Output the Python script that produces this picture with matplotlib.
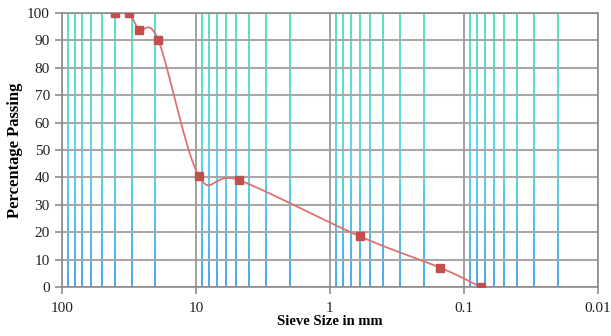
import numpy as np
import matplotlib
matplotlib.use("Agg")
import matplotlib.pyplot as plt
from matplotlib.collections import LineCollection
from matplotlib.colors import LinearSegmentedColormap

# sieve analysis data
sieve_mm = [40, 31.5, 26.5, 19, 9.5, 4.75, 0.6, 0.15, 0.075]
passing = [100, 100, 94, 90, 40.5, 39, 18.5, 7, 0]

y_ticks = list(range(0, 101, 10))
x_ticks = [100, 10, 1, 0.1, 0.01]
x_ticklabels = ["100", "10", "1", "0.1", "0.01"]

plt.rcParams['font.family'] = ['Liberation Serif', 'DejaVu Serif']


def catmull_rom(px, py, n=30):
    # excel-style smoothed line through the points
    px = np.asarray(px, float)
    py = np.asarray(py, float)
    P = np.column_stack([px, py])
    P = np.vstack([P[0], P, P[-1]])
    out = []
    for i in range(1, len(P) - 2):
        p0, p1, p2, p3 = P[i - 1], P[i], P[i + 1], P[i + 2]
        c1 = p1 + (p2 - p0) / 6.0
        c2 = p2 - (p3 - p1) / 6.0
        t = np.linspace(0, 1, n)[:, None]
        seg = ((1 - t) ** 3) * p1 + 3 * ((1 - t) ** 2) * t * c1 + 3 * (1 - t) * t ** 2 * c2 + t ** 3 * p2
        out.append(seg)
    out = np.vstack(out)
    return out[:, 0], out[:, 1]


fig = plt.figure(figsize=(6.11, 3.36), dpi=100)
ax = fig.add_axes([0.101, 0.146, 0.878, 0.815])
ax.set_xscale('log')
ax.set_xlim(100, 0.01)
ax.set_ylim(0, 100)

# gradient minor gridlines (green at top -> blue at bottom)
cmap = LinearSegmentedColormap.from_list('grid', ['#1a8fe6', '#2ccfe6', '#2ad8a6'])
ys = np.linspace(0, 100, 60)
minors = []
for dec in [10, 1, 0.1, 0.01]:
    for k in range(2, 10):
        minors.append(dec * k)
segs, cols = [], []
for xv in minors:
    for i in range(len(ys) - 1):
        segs.append([(xv, ys[i]), (xv, ys[i + 1])])
        cols.append(cmap((ys[i] + ys[i + 1]) / 200.0))
lc = LineCollection(segs, colors=cols, linewidths=1.1, zorder=1)
ax.add_collection(lc)

# major gridlines
for xv in x_ticks:
    ax.axvline(xv, color='#9a9a9a', lw=1.3, zorder=1.5)
for yv in y_ticks:
    ax.axhline(yv, color='#a8a8a8', lw=1.5, zorder=1.2)

lx, ly = catmull_rom(np.log10(sieve_mm), passing)
ax.plot(10 ** lx, ly, color='#db7370', lw=1.3, zorder=3)
ax.plot(sieve_mm, passing, 's', color='#c0504d', markersize=6, zorder=4)

ax.set_xticks(x_ticks)
ax.set_xticklabels(x_ticklabels)
ax.xaxis.set_minor_locator(matplotlib.ticker.NullLocator())
ax.set_yticks(y_ticks)
ax.tick_params(axis='both', labelsize=11, color='#8c8c8c', length=5, width=1.2, colors='#222222')
ax.tick_params(axis='x', pad=6)
for s in ax.spines.values():
    s.set_color('#8c8c8c')
    s.set_linewidth(1.2)

ax.set_ylabel('Percentage Passing', fontsize=12, fontweight='bold', labelpad=3)
ax.set_xlabel('Sieve Size in mm', fontsize=10.5, fontweight='bold', labelpad=0)

fig.savefig('out.png', dpi=100)
